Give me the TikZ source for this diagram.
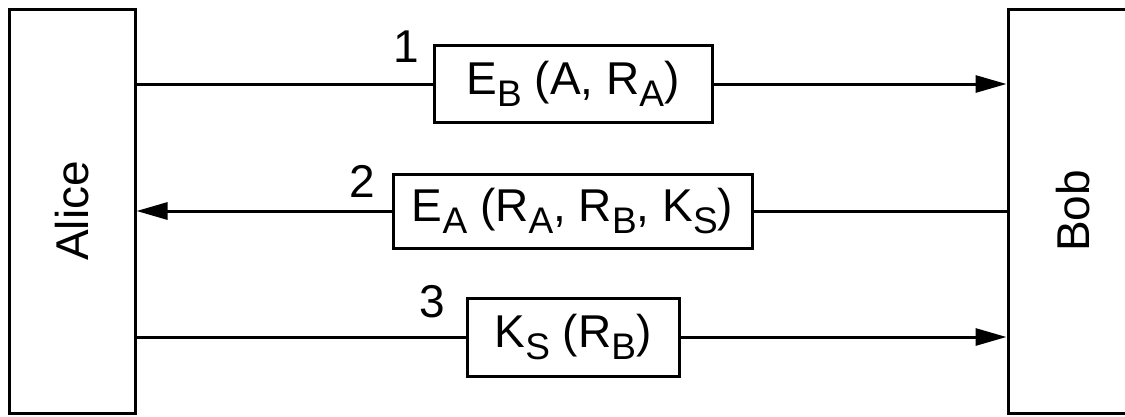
\documentclass[tikz,border=0pt]{standalone}
\usepackage{fontspec}
\setmainfont{Liberation Sans}
\usetikzlibrary{arrows.meta}
\newcommand{\subs}[1]{\raisebox{-12pt}{\fontsize{37}{37}\selectfont #1}}
\tikzset{
  party/.style={draw, line width=3pt, minimum width=126pt, minimum height=404pt, inner sep=0pt},
  msg/.style={draw, line width=3pt, inner sep=0pt, fill=white},
  num/.style={inner sep=0pt},
  link/.style={line width=3pt},
  tip/.style={-{Triangle[length=31pt,width=17pt]}}
}
\begin{document}
\begin{tikzpicture}[x=1pt,y=-1pt,font=\fontsize{46}{55}\selectfont]
\useasboundingbox (0,0) rectangle (1125,416);
\node[party] (alice) at (72,211) {};
\node[rotate=90] (alicet) at (alice.center) {Alice};
\node[party, minimum width=130pt] (bob) at (1073,211) {};
\node[rotate=90] (bobt) at (1073,211) {Bob};
% message 1
\node[msg, minimum width=278pt, minimum height=77pt] (m1) at (573,84) {E\subs{B} (A, R\subs{A})};
\node[num] (n1) at (406,47) {1};
% message 2
\node[msg, minimum width=359pt, minimum height=74pt] (m2) at (572.5,211) {E\subs{A} (R\subs{A}, R\subs{B}, K\subs{S})};
\node[num] (n2) at (362,181) {2};
% message 3
\node[msg, minimum width=212pt, minimum height=78pt] (m3) at (573,337) {K\subs{S} (R\subs{B})};
\node[num] (n3) at (432,302) {3};
% connectors
\draw[link] (alice.east |- m1) -- (m1.west);
\draw[link,tip] (m1.east) -- (bob.west |- m1);
\draw[link] (bob.west |- m2) -- (m2.east);
\draw[link,tip] (m2.west) -- (alice.east |- m2);
\draw[link] (alice.east |- m3) -- (m3.west);
\draw[link,tip] (m3.east) -- (bob.west |- m3);
\end{tikzpicture}
\end{document}
